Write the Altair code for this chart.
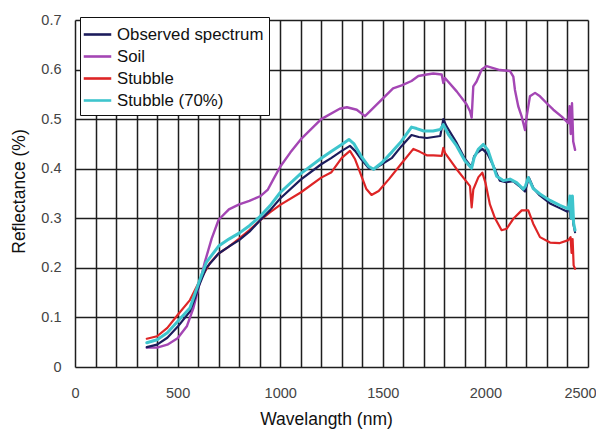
import altair as alt
import pandas as pd

# ---- data ----
series_names = ["Observed spectrum", "Soil", "Stubble", "Stubble (70%)"]
series_colors = ["#1c1c5c", "#a446b4", "#de2526", "#3ec5cd"]

wl_obs = [350, 400, 450, 500, 560, 585, 605, 640, 700, 750, 800, 850, 900, 950, 1000, 1100, 1200, 1250,
          1300, 1340, 1365, 1395, 1430, 1455, 1495, 1545, 1590, 1640, 1675, 1715, 1780, 1795, 1810, 1860,
          1900, 1933, 1945, 1960, 1985, 2010, 2040, 2070, 2100, 2135, 2165, 2193, 2212, 2235, 2265, 2315,
          2365, 2400, 2410, 2415, 2420, 2428, 2437]
obs = [0.040, 0.045, 0.059, 0.081, 0.112, 0.139, 0.165, 0.200, 0.229, 0.243, 0.256, 0.273, 0.295, 0.316,
       0.340, 0.378, 0.409, 0.422, 0.436, 0.446, 0.436, 0.419, 0.402, 0.399, 0.409, 0.422, 0.445, 0.468,
       0.464, 0.462, 0.466, 0.500, 0.486, 0.452, 0.420, 0.403, 0.425, 0.432, 0.440, 0.430, 0.405, 0.376,
       0.373, 0.375, 0.365, 0.354, 0.382, 0.360, 0.346, 0.330, 0.320, 0.313, 0.330, 0.300, 0.335, 0.290,
       0.272]

wl_soil = [350, 400, 450, 500, 545, 577, 605, 633, 666, 700, 750, 800, 850, 905, 940, 967, 1000, 1050,
           1100, 1200, 1290, 1325, 1373, 1413, 1438, 1486, 1550, 1592, 1640, 1673, 1714, 1746, 1787, 1795,
           1803, 1860, 1908, 1925, 1933, 1941, 1957, 1982, 2006, 2038, 2071, 2120, 2136, 2144, 2160, 2177,
           2193, 2201, 2217, 2242, 2266, 2299, 2331, 2372, 2404, 2410, 2416, 2422, 2428, 2437]
soil = [0.039, 0.039, 0.045, 0.058, 0.082, 0.119, 0.165, 0.212, 0.259, 0.297, 0.318, 0.328, 0.335, 0.345,
        0.358, 0.379, 0.404, 0.433, 0.459, 0.500, 0.521, 0.524, 0.519, 0.506, 0.516, 0.536, 0.562, 0.568,
        0.577, 0.587, 0.590, 0.592, 0.590, 0.573, 0.583, 0.556, 0.530, 0.516, 0.503, 0.566, 0.576, 0.600,
        0.607, 0.603, 0.599, 0.597, 0.586, 0.559, 0.526, 0.505, 0.478, 0.505, 0.546, 0.553, 0.546, 0.532,
        0.519, 0.505, 0.492, 0.526, 0.470, 0.532, 0.455, 0.438]

wl_stub = [350, 400, 450, 500, 560, 605, 658, 700, 750, 800, 850, 900, 950, 1000, 1100, 1200, 1250, 1300,
           1340, 1365, 1395, 1420, 1445, 1480, 1530, 1590, 1649, 1681, 1714, 1746, 1787, 1795, 1803, 1860,
           1900, 1925, 1933, 1941, 1966, 1985, 2000, 2022, 2047, 2079, 2104, 2136, 2177, 2209, 2233, 2266,
           2315, 2363, 2404, 2415, 2420, 2425, 2430, 2437]
stub = [0.057, 0.062, 0.079, 0.105, 0.135, 0.172, 0.210, 0.229, 0.243, 0.259, 0.276, 0.295, 0.312, 0.327,
        0.352, 0.382, 0.393, 0.422, 0.436, 0.419, 0.386, 0.359, 0.347, 0.355, 0.379, 0.410, 0.440, 0.434,
        0.427, 0.427, 0.426, 0.442, 0.432, 0.399, 0.378, 0.365, 0.322, 0.358, 0.383, 0.392, 0.372, 0.328,
        0.300, 0.276, 0.279, 0.299, 0.316, 0.316, 0.289, 0.262, 0.251, 0.250, 0.256, 0.262, 0.230, 0.258,
        0.205, 0.198]

wl_stub70 = [350, 400, 450, 500, 560, 605, 640, 700, 750, 800, 850, 900, 950, 1000, 1100, 1200, 1250, 1300,
             1335, 1360, 1395, 1430, 1455, 1495, 1545, 1590, 1640, 1665, 1700, 1745, 1780, 1795, 1820, 1860,
             1900, 1933, 1945, 1965, 1990, 2013, 2055, 2087, 2120, 2152, 2185, 2195, 2209, 2233, 2266, 2315,
             2363, 2404, 2412, 2418, 2424, 2430, 2437]
stub70 = [0.049, 0.055, 0.069, 0.092, 0.119, 0.172, 0.211, 0.244, 0.258, 0.270, 0.285, 0.303, 0.325, 0.352,
          0.390, 0.421, 0.435, 0.449, 0.459, 0.450, 0.425, 0.405, 0.399, 0.412, 0.434, 0.455, 0.484, 0.481,
          0.476, 0.476, 0.479, 0.489, 0.469, 0.446, 0.416, 0.401, 0.422, 0.439, 0.449, 0.437, 0.385, 0.376,
          0.379, 0.372, 0.359, 0.365, 0.382, 0.360, 0.349, 0.336, 0.326, 0.319, 0.345, 0.300, 0.345, 0.290,
          0.276]

x_grid = list(range(0, 2501, 100))
y_grid = [0, 0.1, 0.2, 0.3, 0.4, 0.5, 0.6, 0.7]

FONT = "Liberation Sans"


def frame(wl, vals, name):
    return pd.DataFrame({"wavelength": wl, "reflectance": vals, "series": name,
                         "idx": list(range(len(wl)))})


color_scale = alt.Scale(domain=series_names, range=series_colors)

x_enc = alt.X("wavelength:Q", scale=alt.Scale(domain=[0, 2500], nice=False),
              axis=alt.Axis(values=x_grid, format="d", labelFlush=False,
                            labelExpr="datum.value % 500 === 0 ? datum.label : ''",
                            labelOffset={"condition": {"test": "datum.value === 2500", "value": -8},
                                         "value": 0},
                            title="Wavelangth (nm)", titleX=251))
y_enc = alt.Y("reflectance:Q", scale=alt.Scale(domain=[0, 0.7], nice=False),
              axis=alt.Axis(values=y_grid, format="~g", labelFlush=False,
                            title="Reflectance (%)", titleY=171))
color_enc = alt.Color("series:N", scale=color_scale,
                      legend=alt.Legend(title=None, orient="none", legendX=5, legendY=-3))


def layer(df, width):
    return alt.Chart(df).mark_line(strokeWidth=width, strokeJoin="round", strokeCap="round").encode(
        x=x_enc, y=y_enc, color=color_enc, order="idx:Q")


chart = alt.layer(
    layer(frame(wl_soil, soil, "Soil"), 2.4),
    layer(frame(wl_stub, stub, "Stubble"), 2.2),
    layer(frame(wl_obs, obs, "Observed spectrum"), 2.2),
    layer(frame(wl_stub70, stub70, "Stubble (70%)"), 3.0),
).properties(
    width=513, height=347,
    autosize=alt.AutoSizeParams(type="none"),
    padding={"left": 67, "top": 12, "right": 8, "bottom": 64},
).configure_view(
    stroke=None
).configure_axis(
    grid=True, gridColor="#1e1e1e", gridWidth=1.5, gridOpacity=1,
    domain=False, ticks=False,
    labelFont=FONT, labelFontSize=14.5, labelColor="#444444",
    titleFont=FONT, titleFontSize=17.5, titleFontWeight="normal", titleColor="#111111",
).configure_axisX(
    labelPadding=19, titlePadding=11
).configure_axisY(
    labelPadding=14, titlePadding=12
).configure_legend(
    labelFont=FONT, labelFontSize=16.8, labelColor="#111111", labelLimit=400,
    symbolType="M-1.25,0L1.25,0", symbolSize=484, symbolStrokeWidth=2.6,
    labelOffset=7, rowPadding=0, padding=5,
    strokeColor="#111111", fillColor="white", cornerRadius=0,
)

chart.save("out.html", embed_options={"renderer": "svg", "actions": False})
